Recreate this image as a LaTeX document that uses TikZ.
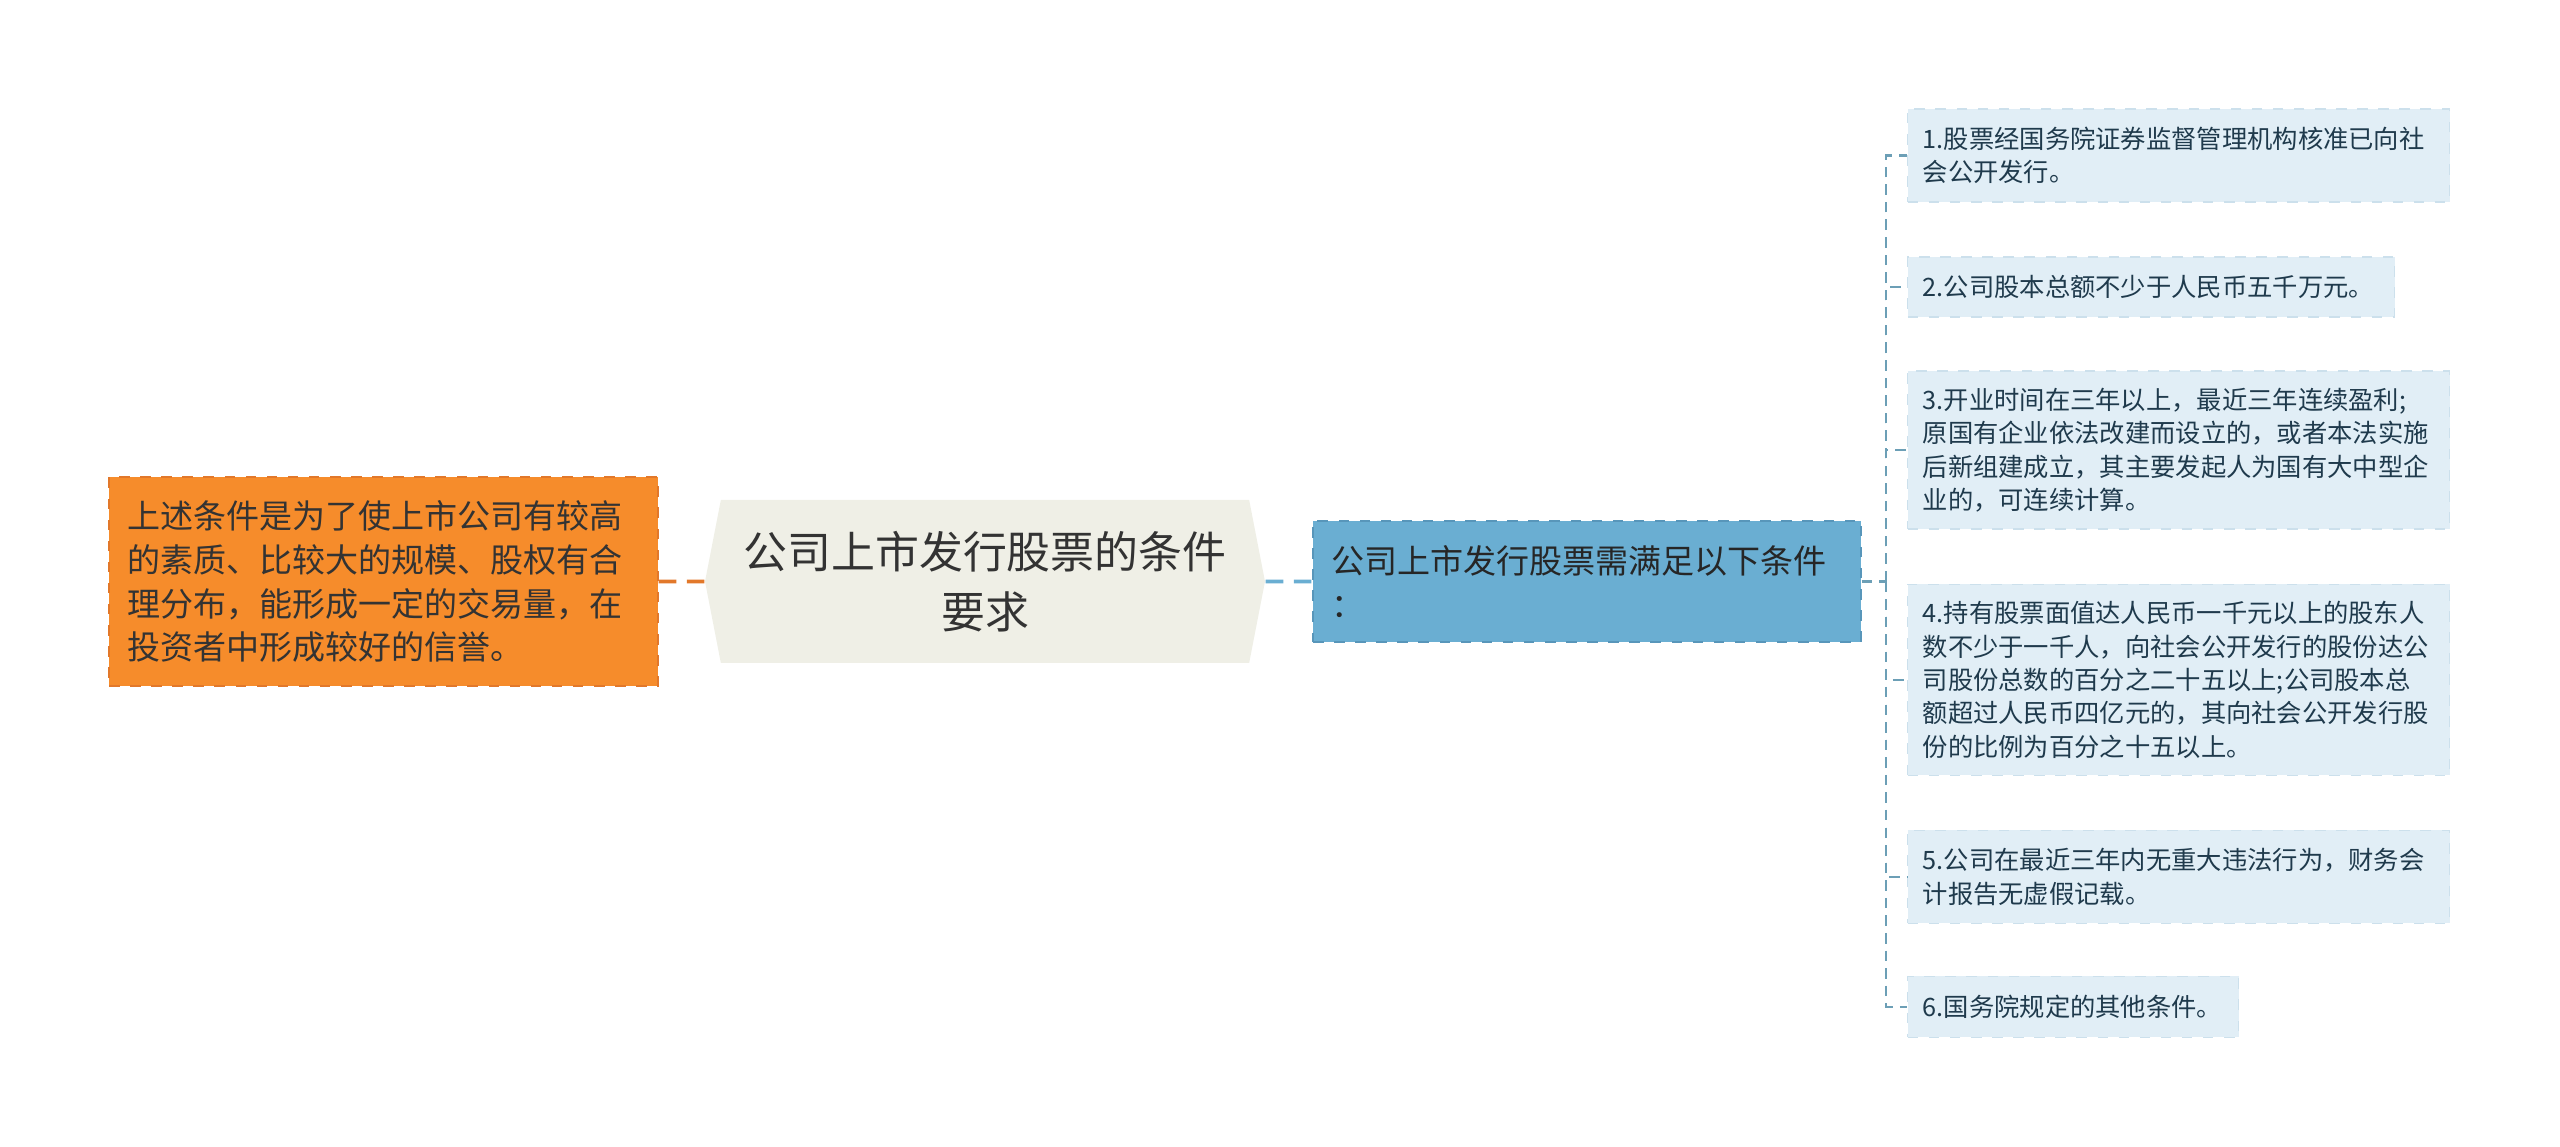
\documentclass[tikz,border=0pt]{standalone}
\usepackage{fontspec}
\setmainfont{Noto Sans CJK SC}
\usetikzlibrary{shapes.symbols}
\definecolor{notefill}{HTML}{F68C2B}
\definecolor{noteline}{HTML}{E2782A}
\definecolor{topicfill}{HTML}{EFEFE6}
\definecolor{condfill}{HTML}{6AAED2}
\definecolor{condline}{HTML}{5896BA}
\definecolor{itemfill}{HTML}{E1EEF6}
\definecolor{itemline}{HTML}{CCE0EC}
\definecolor{treeline}{HTML}{6C9FB6}
\definecolor{itemtext}{HTML}{1F3A4C}
\tikzset{
    note/.style={rectangle, fill=notefill, draw=noteline, dashed, text=black!80,
    	align=left, text width=5.13cm, inner xsep=0.18cm, minimum height=2.09cm,
    	font=\fontsize{9.4}{12.5}\selectfont}
}
\tikzset{
    topic/.style={signal, signal to=west and east, signal pointer angle=158,
    	fill=topicfill, text=black!80, align=center, inner sep=0pt,
    	minimum width=5.6cm, minimum height=1.63cm,
    	font=\fontsize{12.5}{17}\selectfont}
}
\tikzset{
    cond/.style={rectangle, fill=condfill, draw=condline, dashed, text=black!85,
    	align=left, text width=5.12cm, inner xsep=0.18cm, minimum height=1.21cm,
    	font=\fontsize{9.4}{12.5}\selectfont}
}
\tikzset{
    item/.style={rectangle, anchor=west, fill=itemfill, draw=itemline, dashed,
    	text=itemtext, align=left, inner xsep=0.15cm,
    	font=\fontsize{7.2}{9.5}\selectfont}
}
\tikzset{
    link/.style={line width=1pt, dash pattern=on 5pt off 3pt},
    tree/.style={treeline, line width=0.6pt, dash pattern=on 3pt off 2pt}
}

\begin{document}
\begin{tikzpicture}
	\useasboundingbox (0, 0) rectangle (25.6, -11.47);

	\node (note) [note] at (3.835, -5.815) {上述条件是为了使上市公司有较高\\的素质、比较大的规模、股权有合\\理分布，能形成一定的交易量，在\\投资者中形成较好的信誉。};
	\node (topic) [topic] at (9.85, -5.815) {公司上市发行股票的条件\\要求};
	\node (cond) [cond] at (15.87, -5.815) {公司上市发行股票需满足以下条件\\：};
	\coordinate (j) at (18.86, -5.815);

	\node (c1) [item, text width=5.12cm, minimum height=0.93cm] at (19.07, -1.555) {1.股票经国务院证券监督管理机构核准已向社\\会公开发行。};
	\node (c2) [item, text width=4.57cm, minimum height=0.60cm] at (19.07, -2.87) {2.公司股本总额不少于人民币五千万元。};
	\node (c3) [item, text width=5.12cm, minimum height=1.58cm] at (19.07, -4.50) {3.开业时间在三年以上，最近三年连续盈利;\\原国有企业依法改建而设立的，或者本法实施\\后新组建成立，其主要发起人为国有大中型企\\业的，可连续计算。};
	\node (c4) [item, text width=5.12cm, minimum height=1.91cm] at (19.07, -6.80) {4.持有股票面值达人民币一千元以上的股东人\\数不少于一千人，向社会公开发行的股份达公\\司股份总数的百分之二十五以上;公司股本总\\额超过人民币四亿元的，其向社会公开发行股\\份的比例为百分之十五以上。};
	\node (c5) [item, text width=5.12cm, minimum height=0.93cm] at (19.07, -8.77) {5.公司在最近三年内无重大违法行为，财务会\\计报告无虚假记载。};
	\node (c6) [item, text width=3.01cm, minimum height=0.61cm] at (19.07, -10.07) {6.国务院规定的其他条件。};

	\draw [link, noteline] (note) -- (topic);
	\draw [link, condfill] (topic) -- (cond);
	\draw [tree] (cond) -- (j);
	\draw [tree] (j) |- (c1); \draw [tree] (j) |- (c2);
	\draw [tree] (j) |- (c3); \draw [tree] (j) |- (c4);
	\draw [tree] (j) |- (c5); \draw [tree] (j) |- (c6);
\end{tikzpicture}
\end{document}
